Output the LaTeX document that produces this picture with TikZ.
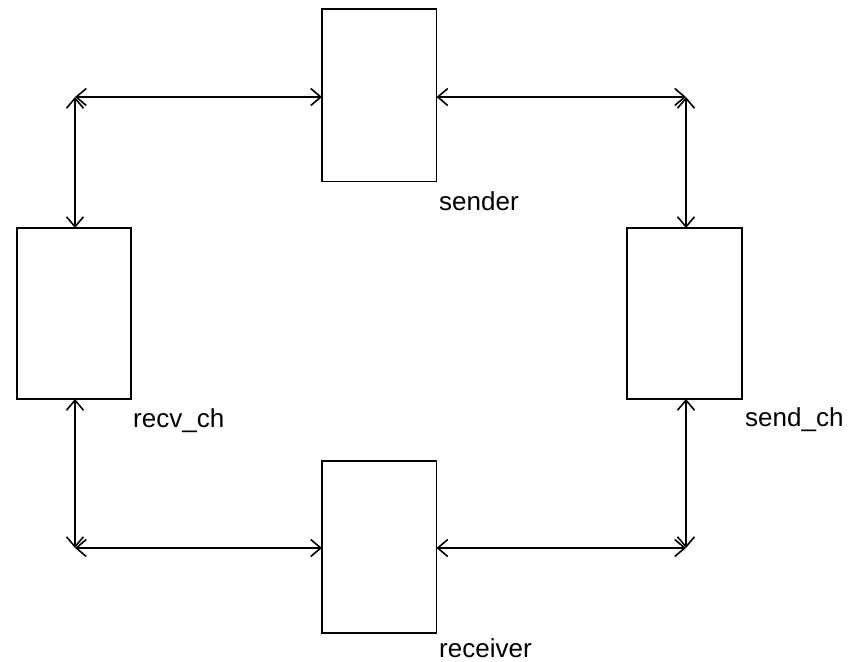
\documentclass[tikz,border=0pt]{standalone}
\usepackage{fontspec}
\setmainfont{Liberation Sans}
\usetikzlibrary{arrows.meta}
\begin{document}
\begin{tikzpicture}[x=1pt,y=-1pt,
  box/.style={draw,line width=1.6pt},
  conn/.style={line width=1.6pt,{Straight Barb[length=10pt,width=17pt]}-{Straight Barb[length=10pt,width=17pt]}},
  lbl/.style={anchor=base west,inner sep=0pt,font=\fontsize{26}{28}\selectfont}]
\useasboundingbox (0,0) rectangle (855,662);
\draw[box] (322,9) rectangle (436.5,181.5);
\draw[box] (17,228) rectangle (131,399);
\draw[box] (627,228) rectangle (742,399);
\draw[box] (322,461) rectangle (436.5,633);
\coordinate (sW) at (322,97);
\coordinate (sE) at (436.5,97);
\coordinate (rW) at (322,548);
\coordinate (rE) at (436.5,548);
\coordinate (lcT) at (75,228);
\coordinate (lcB) at (75,399);
\coordinate (rcT) at (686,228);
\coordinate (rcB) at (686,399);
\coordinate (TL) at (75,97);
\coordinate (TR) at (686,97);
\coordinate (BL) at (75,548);
\coordinate (BR) at (686,548);
\draw[conn] (TL) -- (sW);
\draw[conn] (TL) -- (lcT);
\draw[conn] (sE) -- (TR);
\draw[conn] (TR) -- (rcT);
\draw[conn] (lcB) -- (BL);
\draw[conn] (BL) -- (rW);
\draw[conn] (rE) -- (BR);
\draw[conn] (BR) -- (rcB);
\node[lbl] (sender) at (439,210) {sender};
\node[lbl] (recvch) at (133,427) {recv\_ch};
\node[lbl] (sendch) at (745,426) {send\_ch};
\node[lbl] (receiver) at (439,657) {receiver};
\end{tikzpicture}
\end{document}
